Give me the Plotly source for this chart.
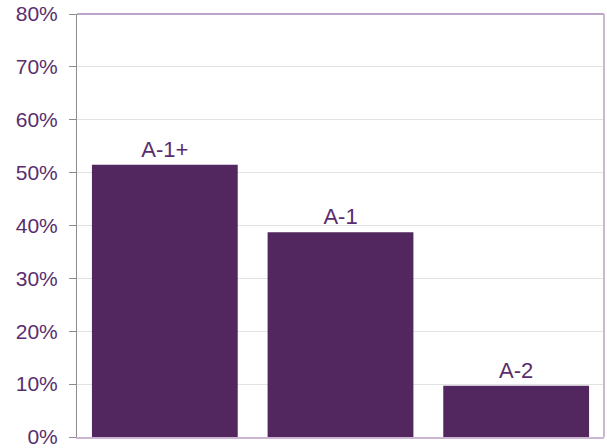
import plotly.graph_objects as go

categories = ["A-1+", "A-1", "A-2"]
values = [0.515, 0.387, 0.097]
tick_vals = [0, 0.1, 0.2, 0.3, 0.4, 0.5, 0.6, 0.7, 0.8]
tick_text = ["0%", "10%", "20%", "30%", "40%", "50%", "60%", "70%", "80%"]

bar_color = "#52265F"
text_color = "#5A2D6E"

fig = go.Figure(go.Bar(
    x=categories, y=values, text=categories, textposition="outside",
    textfont=dict(size=22, color=text_color, family="Liberation Sans, Arial"),
    marker=dict(color=bar_color, line=dict(width=0)),
    cliponaxis=False,
))

fig.update_layout(
    width=607, height=448,
    margin=dict(l=77, r=3, t=14, b=11),
    paper_bgcolor="white", plot_bgcolor="white",
    bargap=0.17,
    showlegend=False,
    font=dict(family="Liberation Sans, Arial", size=21, color=text_color),
    xaxis=dict(showticklabels=False, showgrid=False, zeroline=False,
               showline=True, linecolor="#CDB6D3", linewidth=2, mirror=False),
    yaxis=dict(range=[0, 0.8], tickvals=tick_vals, ticktext=tick_text,
               showgrid=True, gridcolor="#E2E2E2", gridwidth=1,
               zeroline=False, showline=True, linecolor="#8C8C8C", linewidth=1,
               ticks="outside", ticklen=7, tickcolor="#8C8C8C",
               ticklabelstandoff=7, ticklabeloverflow="allow",
               automargin=False,
               tickfont=dict(size=21, color=text_color)),
    shapes=[
        dict(type="line", xref="paper", yref="paper", x0=0, x1=1, y0=1, y1=1,
             line=dict(color="#BFA3C8", width=2)),
        dict(type="line", xref="paper", yref="paper", x0=1, x1=1, y0=0, y1=1,
             line=dict(color="#CDB6D3", width=2)),
    ],
)

fig.write_html("out.html")
